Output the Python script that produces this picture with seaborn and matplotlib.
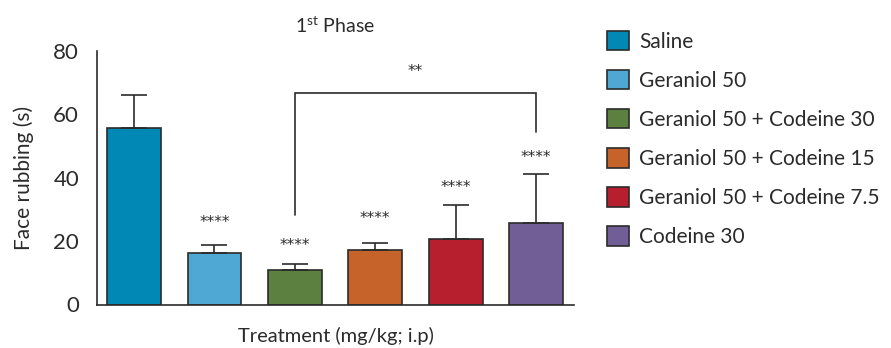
import matplotlib
matplotlib.use("Agg")
import matplotlib.pyplot as plt
import matplotlib.patches as mpatches
import numpy as np
import seaborn as sns

# data
groups = ["Saline", "Geraniol 50", "Geraniol 50 + Codeine 30",
          "Geraniol 50 + Codeine 15", "Geraniol 50 + Codeine 7.5", "Codeine 30"]
means = [55.8, 16.2, 10.9, 17.3, 20.6, 25.7]
errors = [10.5, 2.6, 1.8, 2.2, 10.8, 15.6]
stars = ["", "****", "****", "****", "****", "****"]
star_y = [0, 27.3, 20.0, 28.5, 38.4, 47.8]
colors = ["#0288B4", "#4FA8D4", "#5C8040", "#C6632A", "#B81F2E", "#725E96"]

sns.set_style("white")
plt.rcParams["font.family"] = ["Lato", "DejaVu Sans"]
plt.rcParams["mathtext.fontset"] = "custom"
plt.rcParams["mathtext.rm"] = "Lato"

ink = "#2b2b2b"
fig = plt.figure(figsize=(8.91, 3.48), dpi=100)
ax = fig.add_axes([0.109, 0.125, 0.535, 0.728])

sns.barplot(x=groups, y=means, hue=groups, palette=colors, width=0.67,
            saturation=1, edgecolor=ink, linewidth=1.2, legend=False, ax=ax)

pos = np.arange(len(groups))
ax.errorbar(pos, means, yerr=[np.zeros(len(means)), errors], fmt="none",
            ecolor=ink, elinewidth=1.2, capsize=9.7, capthick=1.2, zorder=1)

# DejaVu asterisks sit high in the line box, nudge them down a bit
for x, s, y in zip(pos, stars, star_y):
    if s:
        ax.text(x, y - 1.3, s, ha="center", va="center", fontsize=11,
                color=ink, family="DejaVu Sans")

# comparison bracket between Geraniol 50 + Codeine 30 and Codeine 30
ax.plot([2, 2, 5, 5], [28.2, 66.7, 66.7, 54.5], color=ink, lw=1.2,
        solid_joinstyle="miter")
ax.text(3.5, 74.8 - 1.3, "**", ha="center", va="center", fontsize=11,
        color=ink, family="DejaVu Sans")

ax.set_xlim(-0.46, 5.47)
ax.set_ylim(0, 80)
ax.set_yticks([0, 20, 40, 60, 80])
ax.set_xticks(pos)
ax.set_xticklabels([])
ax.tick_params(axis="both", direction="out", length=8, width=1.2, color=ink,
               labelsize=16, labelcolor=ink, pad=5)
ax.tick_params(axis="x", length=7)
for side in ["top", "right"]:
    ax.spines[side].set_visible(False)
for side in ["left", "bottom"]:
    ax.spines[side].set_color(ink)
    ax.spines[side].set_linewidth(1.2)

ax.set_ylabel("Face rubbing (s)", fontsize=15, color=ink, labelpad=14)
ax.set_xlabel("Treatment (mg/kg; i.p)", fontsize=14.5, color=ink, labelpad=4)
ax.set_title(r"1$^{\mathrm{st}}$ Phase", fontsize=14, color=ink, pad=13)

handles = [mpatches.Patch(facecolor=c, edgecolor=ink, linewidth=1.2, label=g)
           for c, g in zip(colors, groups)]
fig.legend(handles=handles, loc="upper left", bbox_to_anchor=(0.672, 0.935),
           frameon=False, fontsize=15, handlelength=1.05, handleheight=1.05,
           handletextpad=0.5, labelspacing=0.88, borderaxespad=0,
           labelcolor=ink)

fig.savefig("out.png", dpi=100)
